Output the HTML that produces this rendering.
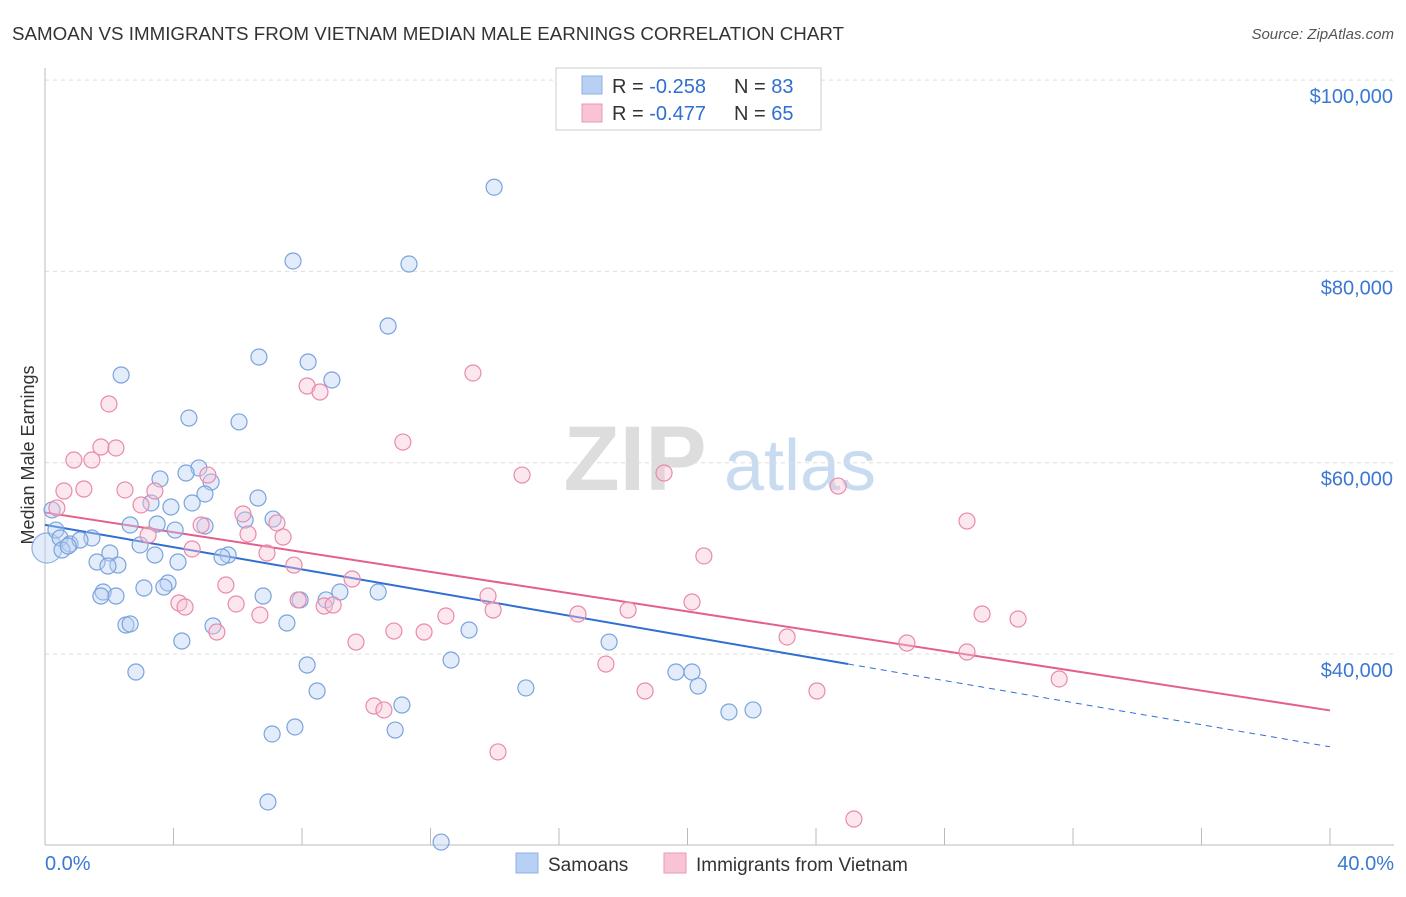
<!DOCTYPE html>
<html><head><meta charset="utf-8"><style>
body{margin:0;background:#fff;font-family:"Liberation Sans",sans-serif}
svg text{font-family:"Liberation Sans",sans-serif}
</style></head><body>
<svg id="c" width="1406" height="892" xmlns="http://www.w3.org/2000/svg">
<text x="12" y="40" font-size="18" fill="#333" textLength="832" lengthAdjust="spacingAndGlyphs">SAMOAN VS IMMIGRANTS FROM VIETNAM MEDIAN MALE EARNINGS CORRELATION CHART</text>
<text x="1394" y="39" font-size="15" fill="#555" text-anchor="end" font-style="italic">Source: ZipAtlas.com</text>
<text transform="translate(34,455) rotate(-90)" font-size="18" fill="#333" text-anchor="middle">Median Male Earnings</text>
<g><text x="635" y="490" font-size="92" fill="#ddd" font-family="Liberation Serif" text-anchor="middle" font-weight="bold">ZIP</text><text x="800" y="490" font-size="72" fill="#c9dbf0" text-anchor="middle">atlas</text></g>
<g id="grid"></g><g id="axes"></g><g id="trends"></g><g id="pts"></g>
<g>
<rect x="556" y="68" width="265" height="62" fill="#fff" stroke="#ccc"/>
<rect x="582" y="76" width="20" height="18" fill="#b8d0f4" stroke="#8fb0e0"/>
<text x="612" y="93" font-size="20" fill="#333">R = <tspan fill="#2f6fd1">-0.258</tspan></text>
<text x="734" y="93" font-size="20" fill="#333">N = <tspan fill="#2f6fd1">83</tspan></text>
<rect x="582" y="104" width="20" height="18" fill="#f8c4d4" stroke="#e89ab3"/>
<text x="612" y="120" font-size="20" fill="#333">R = <tspan fill="#2f6fd1">-0.477</tspan></text>
<text x="734" y="120" font-size="20" fill="#333">N = <tspan fill="#2f6fd1">65</tspan></text>
</g>
<g>
<rect x="516" y="853" width="22" height="20" fill="#b8d0f4" stroke="#8fb0e0"/>
<text x="548" y="871" font-size="19" fill="#333">Samoans</text>
<rect x="664" y="853" width="22" height="20" fill="#f8c4d4" stroke="#e89ab3"/>
<text x="696" y="871" font-size="19" fill="#333">Immigrants from Vietnam</text>
</g>
<text x="45" y="870" font-size="20" fill="#3a78d4">0.0%</text>
<text x="1394" y="870" font-size="20" fill="#3a78d4" text-anchor="end">40.0%</text>
</svg>
<script>
const yTicks=[40000,60000,80000,100000];
const yTickLabels=["$40,000","$60,000","$80,000","$100,000"];
const blueX=[13.98,7.72,11.33,10.68,6.66,8.19,8.93,2.37,4.48,6.04,4.79,4.39,3.58,5.17,4.98,6.63,4.58,3.30,3.92,0.22,6.23,7.10,2.65,3.49,4.98,4.05,0.34,0.47,1.46,0.78,1.09,0.53,0.72,2.96,2.02,3.42,5.70,5.51,1.62,2.27,1.96,4.14,3.83,3.70,3.08,1.81,1.74,2.21,6.79,9.18,10.37,7.94,8.75,2.52,2.65,5.23,7.53,13.20,4.26,17.56,2.83,8.16,12.64,19.64,20.14,20.33,14.97,8.47,11.11,21.29,22.04,7.07,7.78,10.90,6.94,12.33];
const blueY=[88800,81090,80770,74290,71050,70530,68650,69170,64670,64260,59450,58920,58300,57980,56730,56310,55790,55790,55370,55060,54010,54110,53490,53590,53380,52960,52960,52130,52130,51500,51920,50870,51290,51400,50560,50350,50350,50140,49620,49300,49200,49620,47420,47000,46900,46480,46060,46060,46060,46480,46480,45650,45650,43030,43140,42930,43240,42510,41360,41250,38120,38850,39370,38120,38120,36650,36450,36130,34670,33940,34150,31640,32370,32050,24530,20340];
const pinkX=[1.99,1.74,2.21,0.90,1.46,0.59,1.21,2.49,3.42,5.07,2.99,0.37,6.16,4.86,7.22,3.21,6.32,7.41,4.58,6.91,7.75,5.63,9.56,4.17,4.36,5.95,6.69,7.88,8.69,8.97,5.35,9.68,10.86,11.80,12.48,13.79,13.95,8.16,8.56,13.32,11.14,14.85,19.27,24.69,28.70,20.51,16.59,18.15,20.14,23.10,26.83,28.70,29.17,30.29,31.57,17.46,18.68,24.03,10.24,10.55,14.10,25.18];
const pinkY=[66140,61640,61540,60280,60280,57040,57250,57150,57040,58710,55580,55270,54640,53490,53700,52440,52550,52230,50980,50560,49300,47210,47840,45330,44910,45230,44080,45650,45020,45120,42300,41250,42400,42300,43970,46060,44600,68020,67390,69380,62160,58710,58920,57560,53900,50250,44180,44600,45440,41780,41150,40210,44180,43660,37390,38950,36130,36130,34560,34150,29760,22750];
const blueTrend=[[0,53500],[25,38950],[40,30300]];
const pinkTrend=[[0,54800],[40,34100]];
const sx=v=>45+v/40*1285;
const sy=v=>654-(v-40000)*191.3/20000;
const NS="http://www.w3.org/2000/svg";
function mk(t,a,p){const e=document.createElementNS(NS,t);for(const k in a)e.setAttribute(k,a[k]);p.appendChild(e);return e;}
const g=document.getElementById('grid'),ax=document.getElementById('axes'),tr=document.getElementById('trends'),pts=document.getElementById('pts');
yTicks.forEach((t,i)=>{
 const l=mk('line',{x1:45,x2:1394,y1:sy(t),y2:sy(t),stroke:'#ddd','stroke-dasharray':'4,4'},g);
 
 
 const tx=mk('text',{x:1393,y:sy(t)+23,'font-size':20,fill:'#3a78d4','text-anchor':'end'},ax);
 tx.textContent=yTickLabels[i];
 
 
});
const ya=mk('line',{x1:45,x2:45,y1:68,y2:845,stroke:'#bbb'},ax);


const xa=mk('line',{x1:45,x2:1394,y1:845,y2:845,stroke:'#bbb'},ax);


for(let i=0;i<=10;i++){const t=mk('line',{x1:sx(i*4),x2:sx(i*4),y1:828,y2:845,stroke:'#bbb'},ax);
 
 }
function dot(x,y,r,f,s,n){const c=mk('circle',{cx:sx(x),cy:sy(y),r:r,fill:f,'fill-opacity':0.4,stroke:s,'stroke-width':1.2},pts);
 
 }
dot(0.06,51080,15,'#b8d0f4','#8fb0e0','samoan-point');
blueX.forEach((x,i)=>dot(x,blueY[i],8,'#b8d0f4','#7aa3dc','samoan-point'));
pinkX.forEach((x,i)=>dot(x,pinkY[i],8,'#f8c4d4','#e88aab','vietnam-point'));
const b1=mk('line',{x1:sx(blueTrend[0][0]),y1:sy(blueTrend[0][1]),x2:sx(blueTrend[1][0]),y2:sy(blueTrend[1][1]),stroke:'#2f6fd1','stroke-width':2},tr);


const b2=mk('line',{x1:sx(blueTrend[1][0]),y1:sy(blueTrend[1][1]),x2:sx(blueTrend[2][0]),y2:sy(blueTrend[2][1]),stroke:'#2f6fd1','stroke-width':1,'stroke-dasharray':'6,5'},tr);


const p1=mk('line',{x1:sx(pinkTrend[0][0]),y1:sy(pinkTrend[0][1]),x2:sx(pinkTrend[1][0]),y2:sy(pinkTrend[1][1]),stroke:'#e4608c','stroke-width':2},tr);


</script>
</body></html>
